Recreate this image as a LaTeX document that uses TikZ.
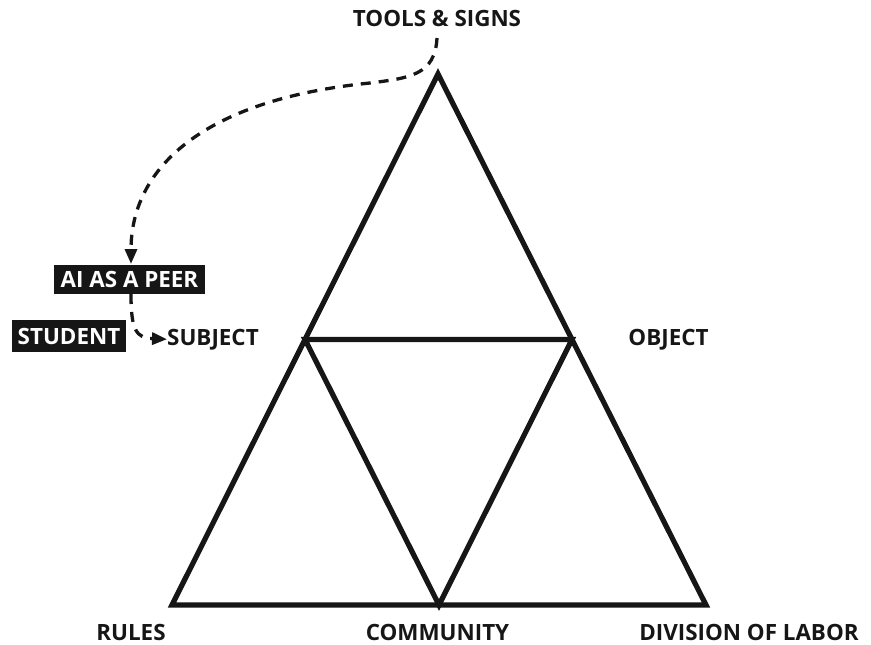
\documentclass[tikz,border=0pt]{standalone}
\usepackage{fontspec}
\setmainfont{Open Sans}
\usetikzlibrary{arrows.meta}
\definecolor{ink}{HTML}{161616}
\tikzset{
  lbl/.style={font=\bfseries\fontsize{22.4}{26}\selectfont, text=ink, inner sep=0pt, anchor=base},
  tagbox/.style={font=\bfseries\fontsize{22.4}{26}\selectfont, text=white, fill=ink, inner sep=0pt, anchor=center},
  tri/.style={draw=ink, line width=5.2pt, line join=miter},
  dashlink/.style={draw=ink, line width=3.3pt, dash pattern=on 10pt off 8pt, -{Triangle[length=15pt,width=12pt]}}
}
\begin{document}
\begin{tikzpicture}[x=1pt,y=-1pt]
\useasboundingbox (0,0) rectangle (871,645);
% triangle vertices
\coordinate (A) at (438,74);
\coordinate (BL) at (172,605);
\coordinate (BR) at (706,605);
\path (A) -- (BL) coordinate[pos=0.5] (ML);
\path (A) -- (BR) coordinate[pos=0.5] (MR);
\path (BL) -- (BR) coordinate[pos=0.5] (MB);
\draw[tri] (A) -- (BR) -- (BL) -- cycle;
\draw[tri] (ML) -- (MR) -- (MB) -- cycle;
% labels
\node[lbl] (tools) at (437,27) {TOOLS \& SIGNS};
\node[lbl, anchor=base west] (subject) at (167,345) {SUBJECT};
\node[lbl] (object) at (668.5,345) {OBJECT};
\node[lbl] (rules) at (131,640) {RULES};
\node[lbl] (community) at (437.5,640) {COMMUNITY};
\node[lbl] (division) at (749,640) {DIVISION OF LABOR};
\node[tagbox, minimum width=151pt, minimum height=29pt] (peer) at (129.5,279.5) {AI AS A PEER};
\node[tagbox, minimum width=114pt, minimum height=32pt] (student) at (69,336) {STUDENT};
% connectors
\coordinate (t0) at (437,38);
\coordinate (ptop) at (131,264);
\draw[dashlink] (t0) .. controls (435,75) and (410,78) .. (370,83) .. controls (200,100) and (131,170) .. (ptop);
\coordinate (p0) at (131,294);
\draw[dashlink] (p0) .. controls (131,330) and (136,338) .. (subject.west);
\end{tikzpicture}
\end{document}
